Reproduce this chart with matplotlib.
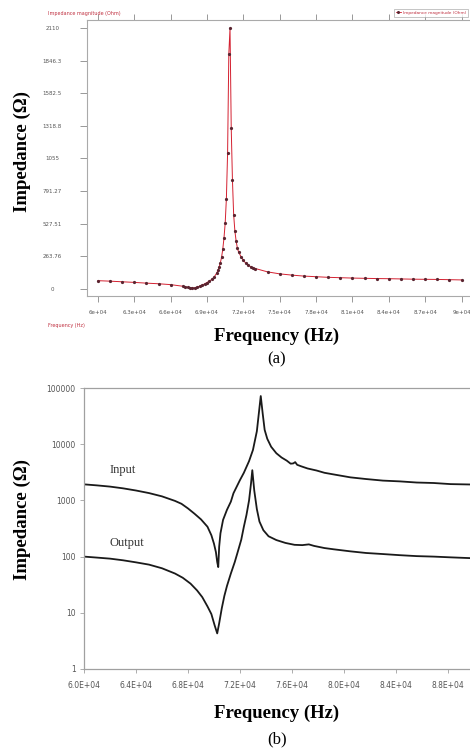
import numpy as np
import matplotlib
matplotlib.use("Agg")
import matplotlib.pyplot as plt
from matplotlib.lines import Line2D

# (a) impedance magnitude sweep, linear scale
freq_a = [60000, 61000, 62000, 63000, 64000, 65000, 66000,
          67000, 67200, 67400, 67600, 67800, 68000, 68200, 68400, 68600, 68800,
          69000, 69200, 69400, 69600, 69800,
          69900, 70000, 70100, 70200, 70300, 70400, 70500, 70600, 70700, 70800,
          70900, 71000, 71100, 71200, 71300, 71400, 71500,
          71600, 71800, 72000, 72200, 72400, 72600, 72800, 73000,
          74000, 75000, 76000, 77000, 78000, 79000, 80000, 81000, 82000,
          83000, 84000, 85000, 86000, 87000, 88000, 89000, 90000]
imp_a = [67, 63, 58, 53, 47, 42, 35,
         22, 18, 14, 10, 8, 10, 16, 23, 31, 41,
         52, 64, 78, 98, 128,
         150, 175, 210, 255, 320, 410, 530, 730, 1100, 1900,
         2110, 1300, 880, 600, 470, 390, 335,
         300, 262, 232, 208, 192, 180, 172, 165,
         138, 122, 112, 104, 99, 94, 91, 88, 86,
         84, 83, 81, 79, 78, 77, 75, 73]
yticks_a = [0, 263.76, 527.51, 791.27, 1055, 1318.8, 1582.5, 1846.3, 2110]
ytick_labels_a = ["0", "263.76", "527.51", "791.27", "1055", "1318.8",
                  "1582.5", "1846.3", "2110"]
xticks_a = [60000, 63000, 66000, 69000, 72000, 75000, 78000, 81000, 84000, 87000, 90000]
xtick_labels_a = ["6e+04", "6.3e+04", "6.6e+04", "6.9e+04", "7.2e+04", "7.5e+04",
                  "7.8e+04", "8.1e+04", "8.4e+04", "8.7e+04", "9e+04"]

# (b) input / output impedance, log scale
freq_in = [60000, 61000, 62000, 63000, 64000, 65000, 66000, 67000, 67500, 68000,
           68500, 69000, 69500, 69800, 70000, 70150, 70250, 70330, 70400, 70500,
           70700, 71000, 71300, 71500, 72000, 72300, 72700, 73000, 73300, 73450,
           73600, 73750, 73900, 74100, 74400, 74800, 75200, 75600, 75900, 76100,
           76250, 76400, 76700, 77200, 77900, 78500, 79200, 80500, 81700, 83000,
           84300, 85600, 86900, 88200, 89700]
imp_in = [1930, 1850, 1760, 1640, 1500, 1350, 1180, 980, 870, 720,
          580, 460, 340, 240, 170, 120, 80, 65, 150, 260,
          450, 680, 950, 1340, 2300, 3100, 5000, 7900, 17000, 35000,
          72000, 35000, 18000, 12500, 9000, 6900, 5800, 5100, 4500, 4550,
          4800, 4300, 4050, 3700, 3400, 3100, 2900, 2570, 2400, 2250,
          2180, 2080, 2040, 1950, 1920]
freq_out = [60000, 61000, 62000, 63000, 64000, 65000, 66000, 67000, 67600, 68200,
            68700, 69100, 69500, 69800, 70050, 70250, 70400, 70600, 70800, 71000,
            71300, 71600, 71800, 72100, 72300, 72500, 72700, 72850, 72950, 73100,
            73300, 73500, 73800, 74200, 74800, 75500, 76200, 76800, 77300, 77700,
            78500, 79200, 80500, 81700, 83000, 84300, 85600, 86900, 88200, 89700]
imp_out = [100, 96, 92, 86, 79, 72, 62, 50, 42, 33,
           25, 19, 13, 9.5, 6, 4.3, 6.5, 12, 20, 30,
           50, 80, 115, 200, 340, 550, 1000, 2000, 3450, 1500,
           700, 420, 295, 230, 197, 175, 162, 160, 165, 155,
           142, 135, 124, 116, 111, 106, 102, 100, 97, 94]
xticks_b = [60000, 64000, 68000, 72000, 76000, 80000, 84000, 88000]
xtick_labels_b = ["6.0E+04", "6.4E+04", "6.8E+04", "7.2E+04", "7.6E+04",
                  "8.0E+04", "8.4E+04", "8.8E+04"]
yticks_b = [1, 10, 100, 1000, 10000, 100000]

W, H = 470, 749
fig = plt.figure(figsize=(4.7, 7.49), dpi=100)
serif = "Liberation Serif"

# ---------- panel (a) ----------
ax1 = fig.add_axes([87 / W, 1 - 296 / H, 1 - 87 / W, (296 - 20) / H])
ax1.plot(freq_a, imp_a, color="#d42030", lw=0.7, marker="o", ms=1.3,
         mfc="#5a2430", mec="#5a2430", zorder=3)
ax1.set_xlim(59100, 90700)
ax1.set_ylim(-57, 2175)
ax1.set_yticks(yticks_a)
ax1.set_yticklabels(ytick_labels_a)
ax1.set_xticks(xticks_a)
ax1.set_xticklabels(xtick_labels_a)
for s in ax1.spines.values():
    s.set_color("#aaaaaa")
    s.set_linewidth(0.8)
ax1.spines["right"].set_visible(False)
ax1.tick_params(axis="y", direction="out", length=5, width=0.6, color="#888888",
                labelsize=4, labelcolor="#555555", pad=20)
for lab in ax1.get_yticklabels():
    lab.set_ha("center")
ax1.tick_params(axis="x", direction="out", length=4, width=0.6, color="#888888",
                labelsize=4, labelcolor="#555555", pad=6, top=True)

fig.text(48 / W, 1 - 13 / H, "Impedance magnitude (Ohm)", fontsize=3.5,
         color="#c03040", va="center", ha="left")
fig.text(48 / W, 1 - 325 / H, "Frequency (Hz)", fontsize=3.5,
         color="#c03040", va="center", ha="left")
handle = Line2D([], [], color="#d42030", lw=0.6, marker="o", ms=1.2,
                mfc="#5a2430", mec="#5a2430")
leg = fig.legend([handle], ["Impedance magnitude (Ohm)"], loc="upper left",
                 bbox_to_anchor=(392 / W, 1 - 7 / H), fontsize=3.1, frameon=True,
                 fancybox=False, edgecolor="#999999", handlelength=1.2,
                 handletextpad=0.5, borderpad=0.4, labelcolor="#c03040")
leg.get_frame().set_linewidth(0.5)

fig.text(22 / W, 1 - 151 / H, "Impedance (Ω)", rotation=90, family=serif,
         fontweight="bold", fontsize=13.5, ha="center", va="center")
fig.text(277 / W, 1 - 336 / H, "Frequency (Hz)", family=serif,
         fontweight="bold", fontsize=13.5, ha="center", va="center")
fig.text(277 / W, 1 - 359 / H, "(a)", family=serif, fontsize=12,
         ha="center", va="center")

# ---------- panel (b) ----------
ax2 = fig.add_axes([84 / W, 1 - 669 / H, 1 - 84 / W, (669 - 388) / H])
ax2.plot(freq_in, imp_in, color="#1a1a1a", lw=1.3)
ax2.plot(freq_out, imp_out, color="#1a1a1a", lw=1.3)
ax2.set_yscale("log")
ax2.set_xlim(60000, 89700)
ax2.set_ylim(1, 100000)
ax2.set_yticks(yticks_b)
ax2.set_yticklabels([str(v) for v in yticks_b])
ax2.yaxis.set_minor_locator(matplotlib.ticker.NullLocator())
ax2.set_xticks(xticks_b)
ax2.set_xticklabels(xtick_labels_b)
for s in ax2.spines.values():
    s.set_color("#a0a0a0")
    s.set_linewidth(0.9)
ax2.spines["right"].set_visible(False)
ax2.tick_params(axis="both", direction="out", length=3, width=0.6,
                color="#a0a0a0", labelsize=5.5, labelcolor="#555555")
ax2.tick_params(axis="x", pad=6)
ax2.tick_params(axis="y", pad=3)
ax2.text(62000, 1950 * 1.75, "Input", family=serif, fontsize=9,
         color="#333333", ha="left", va="center")
ax2.text(62000, 100 * 1.75, "Output", family=serif, fontsize=9,
         color="#333333", ha="left", va="center")

fig.text(22 / W, 1 - 520 / H, "Impedance (Ω)", rotation=90, family=serif,
         fontweight="bold", fontsize=13.5, ha="center", va="center")
fig.text(277 / W, 1 - 713 / H, "Frequency (Hz)", family=serif,
         fontweight="bold", fontsize=13.5, ha="center", va="center")
fig.text(277 / W, 1 - 739 / H, "(b)", family=serif, fontsize=12,
         ha="center", va="center")

fig.savefig("out.png", dpi=100)
